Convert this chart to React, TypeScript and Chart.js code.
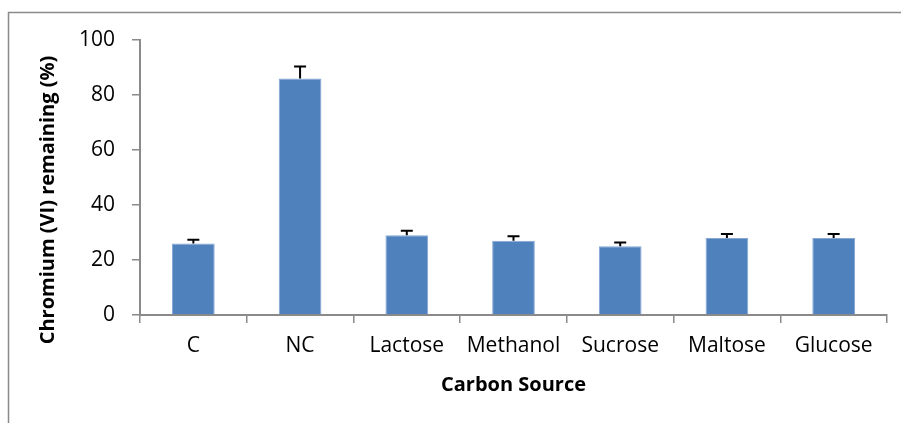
import React, { useEffect, useRef } from "react";
import { Chart, registerables } from "chart.js";

Chart.register(...registerables);

const categories = ["C", "NC", "Lactose", "Methanol", "Sucrose", "Maltose", "Glucose"];
const remaining = [26, 86, 29, 27, 25, 28, 28];
const errors = [1.4, 4.4, 1.6, 1.6, 1.4, 1.5, 1.5];
const yTicks = [0, 20, 40, 60, 80, 100];
const yTitle = "Chromium (VI) remaining (%)";
const xTitle = "Carbon Source";

const FONT = "'Open Sans', 'DejaVu Sans', sans-serif";

const framePlugin = {
  id: "frame",
  beforeDraw(chart: any) {
    const ctx = chart.ctx;
    ctx.save();
    ctx.strokeStyle = "#8a8a8a";
    ctx.lineWidth = 1.5;
    ctx.beginPath();
    ctx.moveTo(8.5, chart.height);
    ctx.lineTo(8.5, 12.5);
    ctx.lineTo(chart.width, 12.5);
    ctx.stroke();
    ctx.restore();
  },
  afterDraw(chart: any) {
    const ctx = chart.ctx;
    ctx.save();
    ctx.translate(48, 200);
    ctx.rotate(-Math.PI / 2);
    ctx.fillStyle = "#000";
    ctx.font = `bold 20px ${FONT}`;
    ctx.textAlign = "center";
    ctx.textBaseline = "middle";
    ctx.fillText(yTitle, 0, 0);
    ctx.restore();
  },
};

const errorBarPlugin = {
  id: "errorBars",
  afterDatasetsDraw(chart: any) {
    const ctx = chart.ctx;
    const meta = chart.getDatasetMeta(0);
    const yScale = chart.scales.y;
    ctx.save();
    ctx.strokeStyle = "#000";
    ctx.lineWidth = 2;
    meta.data.forEach((bar: any, i: number) => {
      const x = bar.x;
      const yTop = yScale.getPixelForValue(remaining[i]);
      const yErr = yScale.getPixelForValue(remaining[i] + errors[i]);
      ctx.beginPath();
      ctx.moveTo(x, yTop);
      ctx.lineTo(x, yErr);
      ctx.moveTo(x - 6, yErr);
      ctx.lineTo(x + 6, yErr);
      ctx.stroke();
    });
    ctx.restore();
  },
};

export default function App() {
  const ref = useRef<HTMLCanvasElement | null>(null);
  useEffect(() => {
    if (!ref.current) return;
    const chart = new Chart(ref.current, {
      type: "bar",
      data: {
        labels: categories,
        datasets: [
          {
            data: remaining,
            backgroundColor: "#4F81BD",
            borderColor: "#86A6D4",
            borderWidth: 1,
            categoryPercentage: 0.8,
            barPercentage: 0.5,
          },
        ],
      },
      options: {
        animation: false,
        responsive: false,
        maintainAspectRatio: false,
        layout: { padding: { top: 40, right: 14, left: 0, bottom: 0 } },
        plugins: { legend: { display: false }, tooltip: { enabled: false } },
        scales: {
          x: {
            afterFit(scale: any) {
              scale.height = 108;
            },
            grid: {
              display: true,
              drawOnChartArea: false,
              drawTicks: true,
              tickLength: 8,
              color: "#8a8a8a",
              lineWidth: 1.5,
              offset: true,
            },
            border: { display: true, color: "#8a8a8a", width: 2 },
            ticks: {
              color: "#000",
              padding: 10,
              maxRotation: 0,
              font: { family: FONT, size: 21 },
            },
            title: {
              display: true,
              text: xTitle,
              color: "#000",
              font: { family: FONT, size: 20, weight: "bold" },
              padding: { top: 0, bottom: 26 },
            },
          },
          y: {
            min: 0,
            max: 100,
            afterFit(scale: any) {
              scale.width = 140;
            },
            afterBuildTicks(scale: any) {
              scale.ticks = yTicks.map((v) => ({ value: v }));
            },
            grid: {
              display: true,
              drawOnChartArea: false,
              drawTicks: true,
              tickLength: 8,
              color: "#8a8a8a",
              lineWidth: 1.5,
            },
            border: { display: true, color: "#8a8a8a", width: 2 },
            ticks: {
              color: "#000",
              padding: 17,
              font: { family: FONT, size: 21 },
            },
            title: { display: false },
          },
        },
      },
      plugins: [framePlugin, errorBarPlugin],
    });
    return () => chart.destroy();
  }, []);
  return (
    <div style={{ position: "absolute", left: 0, top: 0, width: 901, height: 423, background: "#fff" }}>
      <canvas ref={ref} width={901} height={423} style={{ display: "block" }} />
    </div>
  );
}
